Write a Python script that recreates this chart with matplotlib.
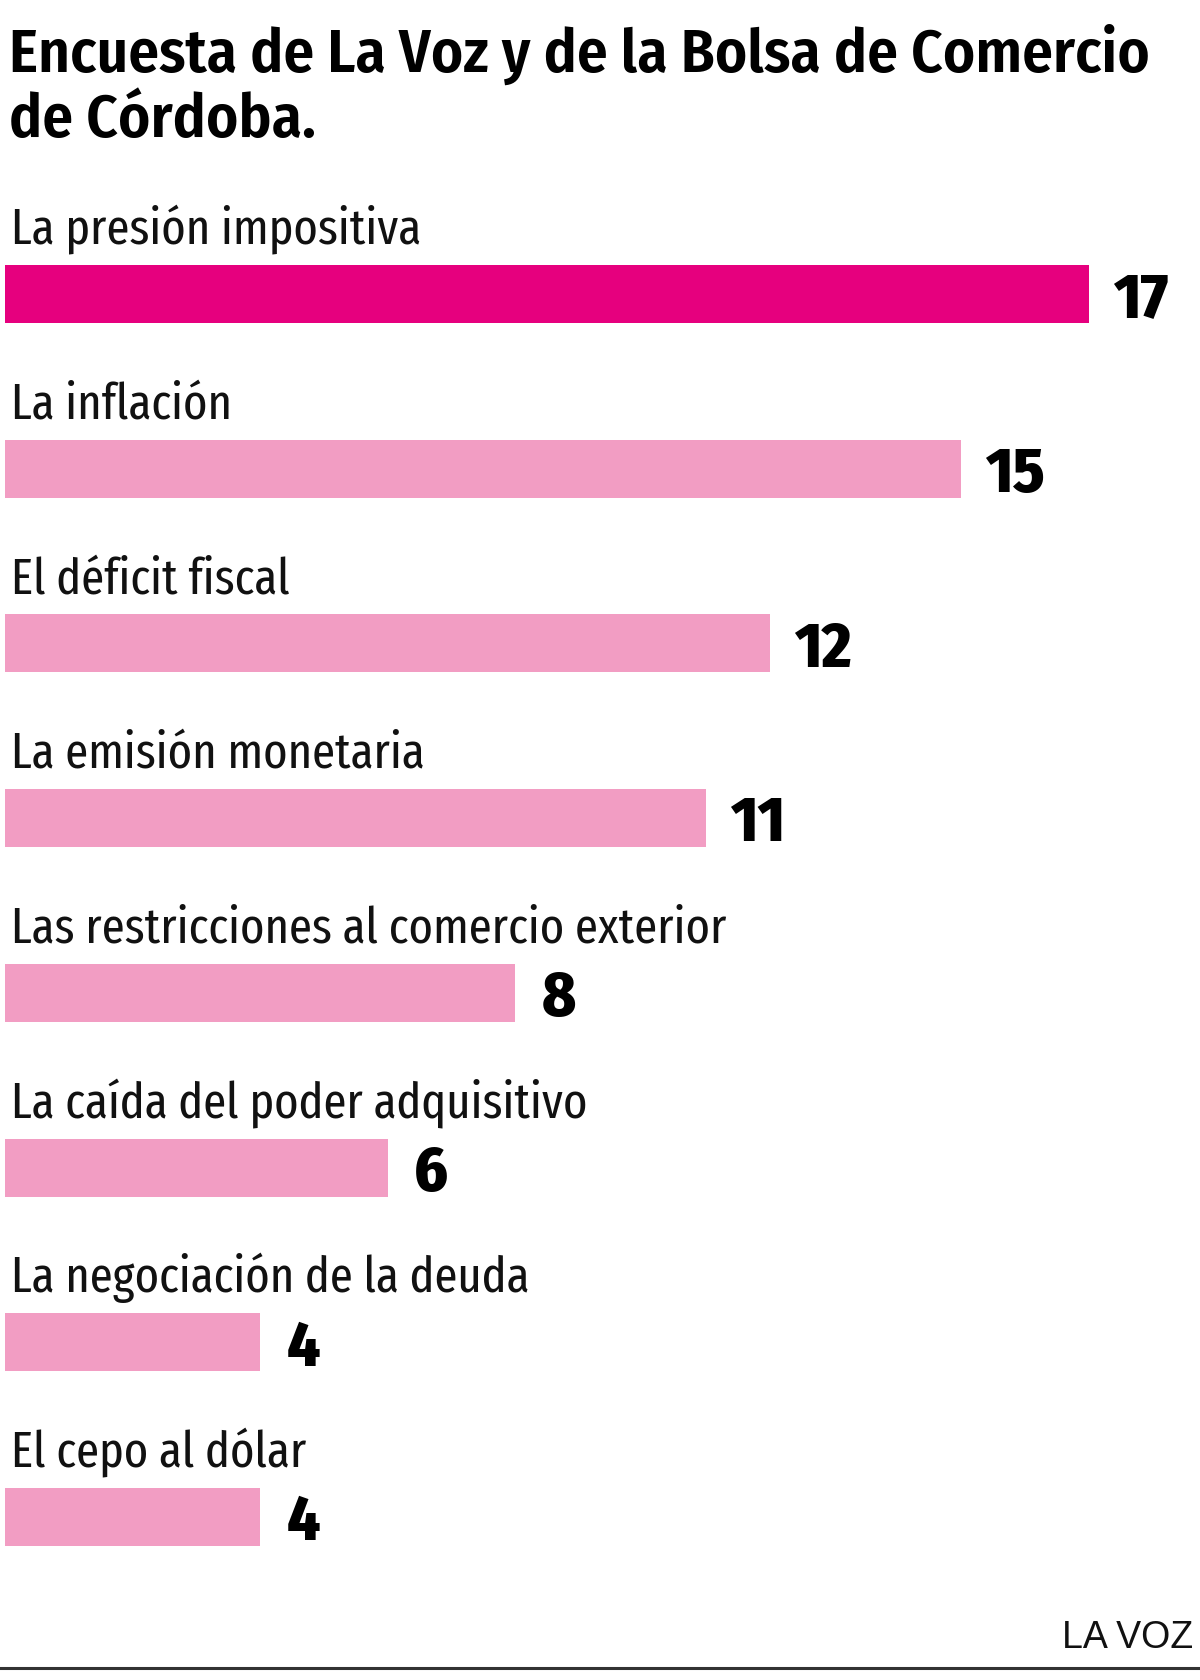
import matplotlib.pyplot as plt
from matplotlib.lines import Line2D

categorias = [
    "La presión impositiva",
    "La inflación",
    "El déficit fiscal",
    "La emisión monetaria",
    "Las restricciones al comercio exterior",
    "La caída del poder adquisitivo",
    "La negociación de la deuda",
    "El cepo al dólar",
]
valores = [17, 15, 12, 11, 8, 6, 4, 4]
colores = ["#E6007E"] + ["#F29DC3"] * 7

titulo = ["Encuesta de La Voz y de la Bolsa de Comercio", "de Córdoba."]
fuente = "LA VOZ"

narrow = ["Fira Sans Condensed", "Roboto Condensed", "Open Sans", "DejaVu Sans"]
xnarrow = ["Fira Sans Extra Condensed"] + narrow
W, H = 1200, 1681
fig = plt.figure(figsize=(W / 100, H / 100), dpi=100)

# axes: x=0 at px 5, x=17 at px 1089; rows centred 295..1518 px
ax = fig.add_axes([5 / W, 1 - 1605.4 / H, 1084 / W, (1605.4 - 207.6) / H])
y = list(range(len(categorias)))
ax.barh(y, valores, height=0.332, color=colores)
ax.set_xlim(0, 17)
ax.set_ylim(len(categorias) - 0.5, -0.5)
ax.axis("off")

for i, (cat, v) in enumerate(zip(categorias, valores)):
    ax.annotate(cat, xy=(0, i), xytext=(4.5, 37), textcoords="offset points",
                ha="left", va="baseline", fontsize=36.5, family=xnarrow,
                color="#111111", annotation_clip=False)
    dx = 17 if v >= 10 else 19
    ax.annotate(str(v), xy=(v, i), xytext=(dx, -16), textcoords="offset points",
                ha="left", va="baseline", fontsize=46, fontweight="heavy",
                family=narrow, color="#000000", annotation_clip=False)

fig.text(9 / W, 1 - 72 / H, titulo[0], ha="left", va="baseline",
         fontsize=44, fontweight="semibold", family=narrow, color="#000000")
fig.text(9 / W, 1 - 137 / H, titulo[1], ha="left", va="baseline",
         fontsize=44, fontweight="semibold", family=narrow, color="#000000")

fig.text(1193 / W, 1 - 1648 / H, fuente, ha="right", va="baseline",
         fontsize=27, family=["Liberation Sans", "DejaVu Sans"], color="#111111")
fig.add_artist(Line2D([0, 1], [1 - 1669 / H] * 2, color="#333333", linewidth=2.2))

fig.savefig("out.png", dpi=100, facecolor="white")
